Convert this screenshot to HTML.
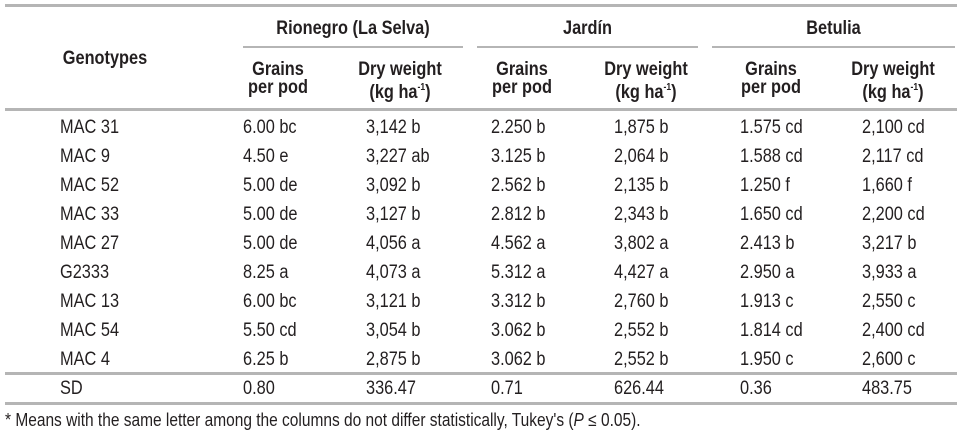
<!DOCTYPE html>
<html><head><meta charset="utf-8"><style>
body{margin:0;width:961px;height:437px;background:#fff;position:relative;overflow:hidden;font-family:"Liberation Sans",Arial,sans-serif;color:#231f20;font-size:19px;}
.t{position:absolute;white-space:nowrap;line-height:1;transform:scaleX(0.86);transform-origin:left center;}
.b{font-weight:bold;}
.c{text-align:center;transform-origin:center center;}
.l{position:absolute;background:#b5b5b5;}
sup{font-size:10px;vertical-align:8px;}
</style></head><body>
<div class="l" style="left:5px;top:4px;width:952px;height:3px"></div>
<div class="l" style="left:243px;top:46px;width:220px;height:2px"></div>
<div class="l" style="left:477px;top:46px;width:221px;height:2px"></div>
<div class="l" style="left:712px;top:46px;width:243px;height:2px"></div>
<div class="l" style="left:5px;top:108px;width:952px;height:3px"></div>
<div class="l" style="left:5px;top:372px;width:952px;height:3px"></div>
<div class="l" style="left:5px;top:402px;width:952px;height:3px"></div>

<div class="t b c" style="left:243px;width:220px;top:19px">Rionegro (La Selva)</div>
<div class="t b c" style="left:477px;width:221px;top:19px">Jardín</div>
<div class="t b c" style="left:712px;width:243px;top:19px">Betulia</div>
<div class="t b c" style="left:40px;width:130px;top:49px">Genotypes</div>

<div class="t b c" style="left:233px;width:90px;top:61px;line-height:18px">Grains<br>per pod</div>
<div class="t b c" style="left:350px;width:100px;top:61px;line-height:18px">Dry weight<br>(kg ha<sup>-1</sup>)</div>
<div class="t b c" style="left:477px;width:90px;top:61px;line-height:18px">Grains<br>per pod</div>
<div class="t b c" style="left:596px;width:100px;top:61px;line-height:18px">Dry weight<br>(kg ha<sup>-1</sup>)</div>
<div class="t b c" style="left:726px;width:90px;top:61px;line-height:18px">Grains<br>per pod</div>
<div class="t b c" style="left:843px;width:100px;top:61px;line-height:18px">Dry weight<br>(kg ha<sup>-1</sup>)</div>

<div id="rows"></div>
<script>
var d=[["MAC 31","6.00 bc","3,142 b","2.250 b","1,875 b","1.575 cd","2,100 cd"],
["MAC 9","4.50 e","3,227 ab","3.125 b","2,064 b","1.588 cd","2,117 cd"],
["MAC 52","5.00 de","3,092 b","2.562 b","2,135 b","1.250 f","1,660 f"],
["MAC 33","5.00 de","3,127 b","2.812 b","2,343 b","1.650 cd","2,200 cd"],
["MAC 27","5.00 de","4,056 a","4.562 a","3,802 a","2.413 b","3,217 b"],
["G2333","8.25 a","4,073 a","5.312 a","4,427 a","2.950 a","3,933 a"],
["MAC 13","6.00 bc","3,121 b","3.312 b","2,760 b","1.913 c","2,550 c"],
["MAC 54","5.50 cd","3,054 b","3.062 b","2,552 b","1.814 cd","2,400 cd"],
["MAC 4","6.25 b","2,875 b","3.062 b","2,552 b","1.950 c","2,600 c"],
["SD","0.80","336.47","0.71","626.44","0.36","483.75"]];
var xs=[60,243,366,491,614,740,862],h="";
d.forEach(function(r,i){var y=i<9?118+i*29:379;r.forEach(function(v,j){h+='<div class="t" style="left:'+xs[j]+'px;top:'+y+'px">'+v+'</div>';});});
document.getElementById("rows").innerHTML=h;
</script>
<div class="t" style="left:5px;top:411px;font-size:18px">* Means with the same letter among the columns do not differ statistically, Tukey's (<i>P</i> ≤ 0.05).</div>
</body></html>
